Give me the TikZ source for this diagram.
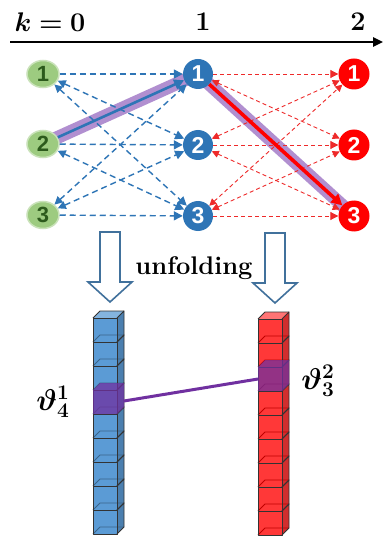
\documentclass[tikz,border=0pt]{standalone}
\usepackage{fontspec}
\usepackage{amsmath,bm,graphicx}
\usetikzlibrary{arrows.meta,backgrounds,shapes.geometric}
\newfontfamily\nodefont{Liberation Sans}
\definecolor{gfill}{HTML}{9DCB80}
\definecolor{gtext}{HTML}{2C5A1C}
\definecolor{bnode}{HTML}{2E75B6}
\definecolor{bedge}{HTML}{2E75B6}
\definecolor{rnode}{HTML}{FF0000}
\definecolor{redge}{HTML}{EE2A2A}
\definecolor{band}{HTML}{A47CC8}
\definecolor{purp}{HTML}{7030A0}
\definecolor{arrline}{HTML}{41719C}
\definecolor{bcube}{HTML}{5B9BD5}
\definecolor{rcube}{HTML}{FF3838}
\definecolor{edgegray}{HTML}{333333}
\tikzset{
  gnode/.style={ellipse, fill=gfill, draw=gfill!55!white, line width=1.5pt, minimum width=32pt, minimum height=27pt, inner sep=0pt, text=gtext, font=\nodefont\bfseries\fontsize{22}{22}\selectfont},
  bnodestyle/.style={circle, fill=bnode, minimum size=30pt, inner sep=0pt, text=white, font=\nodefont\bfseries\fontsize{23}{23}\selectfont},
  rnodestyle/.style={circle, fill=rnode, minimum size=31pt, inner sep=0pt, text=white, font=\nodefont\bfseries\fontsize{23}{23}\selectfont},
  bdash/.style={draw=bedge, line width=1.4pt, dash pattern=on 6pt off 4pt},
  rdash/.style={draw=redge, line width=0.9pt, dash pattern=on 4pt off 3pt},
  btip/.style={-{Triangle[length=9pt,width=9pt]}},
  btips/.style={{Triangle[length=8pt,width=8pt]}-{Triangle[length=9pt,width=9pt]}},
  rtip/.style={-{Triangle[length=8pt,width=8pt]}},
  rtips/.style={{Triangle[length=7pt,width=7pt]}-{Triangle[length=7pt,width=7pt]}},
  unfold/.style={draw=arrline, line width=1.6pt, fill=white, line join=miter},
  toplabel/.style={font=\fontsize{20.74}{24}\selectfont\bfseries, inner sep=0pt},
  mathlabel/.style={font=\fontsize{20.74}{24}\selectfont, inner sep=0pt},
  cubeline/.style={draw=edgegray, line width=0.9pt, line join=round}
}
\begin{document}
\begin{tikzpicture}[x=1pt,y=-1pt]
\useasboundingbox (0,0) rectangle (383,537);

% axis
\coordinate (axL) at (10,42);
\coordinate (axR) at (383,42);
\draw[line width=2.4pt, -{Triangle[length=10pt,width=9pt]}] (axL) -- (axR);
\node[toplabel] (k0) at (50,22) {\scalebox{1.3}{$\bm{k=0}$}};
\node[toplabel] (k1) at (203,22) {\scalebox{1.3}{1}};
\node[toplabel] (k2) at (358,22) {\scalebox{1.3}{2}};

% nodes
\node[gnode] (g1) at (43,74) {1};
\node[gnode] (g2) at (43,144) {2};
\node[gnode] (g3) at (43,215) {3};
\node[bnodestyle] (b1) at (198,74) {1};
\node[bnodestyle] (b2) at (198,145) {2};
\node[bnodestyle] (b3) at (198,216) {3};
\node[rnodestyle] (r1) at (354,74) {1};
\node[rnodestyle] (r2) at (354,145) {2};
\node[rnodestyle] (r3) at (354,216) {3};

\begin{pgfonlayer}{background}
  \fill[white] (0,0) rectangle (383,537);
  \draw[band, opacity=0.85, line width=13pt, shorten <=4pt, shorten >=8pt] (g2.center) -- (b1.center);
  \draw[band, opacity=0.85, line width=13pt, shorten <=6pt, shorten >=12pt] (b1.center) -- (r3.center);
\end{pgfonlayer}

% blue dashed edges
\draw[bdash, btip] (g1) -- (b1);
\draw[bdash, btip] (g2) -- (b2);
\draw[bdash, btip] (g3) -- (b3);
\draw[bdash, btips] (g1) -- (b2);
\draw[bdash, btips] (g1) -- (b3);
\draw[bdash, btips] (g2) -- (b3);
\draw[bdash, btips] (g3) -- (b1);
\draw[bdash, btips] (g3) -- (b2);
% red dashed edges
\draw[rdash, rtip] (b1) -- (r1);
\draw[rdash, rtip] (b2) -- (r2);
\draw[rdash, rtip] (b3) -- (r3);
\draw[rdash, rtips] (b1) -- (r2);
\draw[rdash, rtips] (b2) -- (r1);
\draw[rdash, rtips] (b2) -- (r3);
\draw[rdash, rtips] (b3) -- (r1);
\draw[rdash, rtips] (b3) -- (r2);
% highlighted path
\draw[bedge, line width=2.6pt, -{Triangle[length=10pt,width=10pt]}] (g2) -- (b1);
\draw[rnode, line width=3.6pt, -{Triangle[length=11pt,width=11pt]}] (b1) -- (r3);

% unfolding arrows
\draw[unfold] (100,232) -- (120,232) -- (120,282) -- (132,282) -- (110,302) -- (88,282) -- (100,282) -- cycle;
\draw[unfold] (265,233) -- (285,233) -- (285,283) -- (297,283) -- (275,303) -- (253,283) -- (265,283) -- cycle;
\node[font=\fontsize{25.5}{28}\selectfont\bfseries, inner sep=0pt, anchor=base] (unf) at (194,274) {unfolding};

% left cube column
\foreach \i in {0,...,8} {
  \pgfmathsetmacro\yt{318+24*\i}
  \fill[bcube] (93,\yt) rectangle (117,\yt+24);
  \fill[bcube!82!black] (117,\yt) -- (124,\yt-7) -- (124,\yt+17) -- (117,\yt+24) -- cycle;
  \draw[bcube!65!black, line width=0.8pt] (93,\yt+24) -- (100,\yt+17) -- (124,\yt+17);
}
\fill[bcube!75!white] (93,318) -- (100,311) -- (124,311) -- (117,318) -- cycle;
\foreach \i in {0,...,8} {
  \pgfmathsetmacro\yt{318+24*\i}
  \draw[cubeline] (93,\yt) rectangle (117,\yt+24);
  \draw[cubeline] (117,\yt) -- (124,\yt-7) -- (124,\yt+17) -- (117,\yt+24);
}
\draw[cubeline] (93,318) -- (100,311) -- (124,311);
\fill[purp, opacity=0.75] (93,390) -- (100,383) -- (124,383) -- (124,407) -- (117,414) -- (93,414) -- cycle;

% right cube column
\foreach \i in {0,...,8} {
  \pgfmathsetmacro\yt{319+24*\i}
  \fill[rcube] (258,\yt) rectangle (282,\yt+24);
  \fill[rcube!82!black] (282,\yt) -- (289,\yt-7) -- (289,\yt+17) -- (282,\yt+24) -- cycle;
  \draw[red!75!black, line width=0.8pt] (258,\yt+24) -- (265,\yt+17) -- (289,\yt+17);
}
\fill[rcube!70!white] (258,319) -- (265,312) -- (289,312) -- (282,319) -- cycle;
\foreach \i in {0,...,8} {
  \pgfmathsetmacro\yt{319+24*\i}
  \draw[cubeline] (258,\yt) rectangle (282,\yt+24);
  \draw[cubeline] (282,\yt) -- (289,\yt-7) -- (289,\yt+17) -- (282,\yt+24);
}
\draw[cubeline] (258,319) -- (265,312) -- (289,312);
\fill[purp, opacity=0.75] (258,367) -- (265,360) -- (289,360) -- (289,384) -- (282,391) -- (258,391) -- cycle;

% link
\coordinate (cL) at (124,401);
\coordinate (cR) at (258,379);
\draw[purp, line width=3pt] (cL) -- (cR);

\node[mathlabel] (th1) at (53,402) {\scalebox{1.45}{$\bm{\vartheta^{1}_{4}}$}};
\node[mathlabel] (th2) at (318,381) {\scalebox{1.45}{$\bm{\vartheta^{2}_{3}}$}};
\end{tikzpicture}
\end{document}
